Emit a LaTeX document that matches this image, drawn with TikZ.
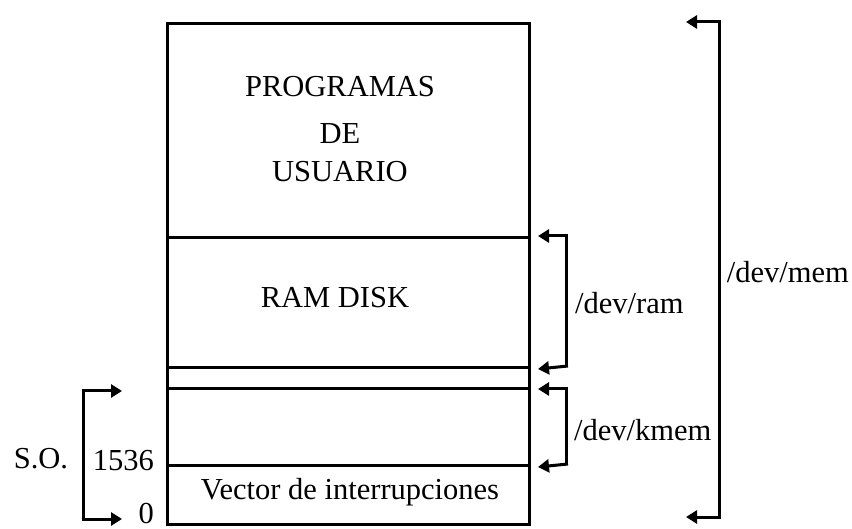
\documentclass[tikz,border=0pt]{standalone}
\usepackage{fontspec}
\setmainfont{Liberation Serif}
\usetikzlibrary{arrows.meta,calc}
\begin{document}
\begin{tikzpicture}[x=1pt,y=-1pt,
  region/.style={draw,line width=3pt,minimum width=362pt,inner sep=0pt,anchor=north west},
  lbl/.style={font=\fontsize{30.5}{38}\selectfont,inner sep=0pt},
  arr/.style={line width=3pt,-{Triangle[length=11pt,width=13pt]}}]
\useasboundingbox (0,0) rectangle (852,529);
% memory map, top to bottom
\node[region,minimum height=214pt] (user) at (166,22) {};
\node[region,minimum height=130pt] (ramdisk) at (166,236) {};
\node[region,minimum height=21pt] (gap) at (166,366) {};
\node[region,minimum height=77pt] (kernel) at (166,387) {};
\node[region,minimum height=59pt] (vector) at (166,464) {};
% region texts
\node[lbl,align=center] (usertxt) at (340,129) {PROGRAMAS\\[9pt]DE\\[0pt]USUARIO};
\node[lbl] (ramtxt) at (335,298) {RAM DISK};
\node[lbl] (vectxt) at (350,492) {Vector de interrupciones};
% /dev/ram bracket
\coordinate (ramA) at ($(ramdisk.north east)+(7,0)$);
\coordinate (ramB) at ($(ramdisk.south east)+(7,0)$);
\draw[arr] (568,236) -- (ramA);
\draw[line width=3pt] (566.5,236) -- (566.5,366);
\draw[arr] (568,366) -- (ramB);
\node[lbl,anchor=west] (ramlbl) at (575,303) {/dev/ram};
% /dev/kmem bracket
\coordinate (kmA) at ($(kernel.north east)+(7,0)$);
\coordinate (kmB) at ($(kernel.south east)+(7,0)$);
\draw[arr] (568,389) -- (kmA|-0,389);
\draw[line width=3pt] (566.5,389) -- (566.5,464);
\draw[arr] (568,464) -- (kmB);
\node[lbl,anchor=west] (kmlbl) at (574,430) {/dev/kmem};
% /dev/mem bracket
\coordinate (memA) at (686,22);
\coordinate (memB) at (686,517);
\draw[arr] (720.5,22) -- (memA);
\draw[line width=3pt] (719,22) -- (719,517);
\draw[arr] (720.5,517) -- (memB);
\node[lbl,anchor=east] (memlbl) at (849,272) {/dev/mem};
% S.O. bracket
\coordinate (soA) at (122,391);
\coordinate (soB) at (122,519);
\draw[arr] (81.5,391) -- (soA);
\draw[line width=3pt] (83,391) -- (83,519);
\draw[arr] (81.5,519) -- (soB);
\node[lbl] (solbl) at (41,459) {S.O.};
\node[lbl,anchor=east] (n1536) at (154,461) {1536};
\node[lbl,anchor=east] (n0) at (154,514) {0};
\end{tikzpicture}
\end{document}
